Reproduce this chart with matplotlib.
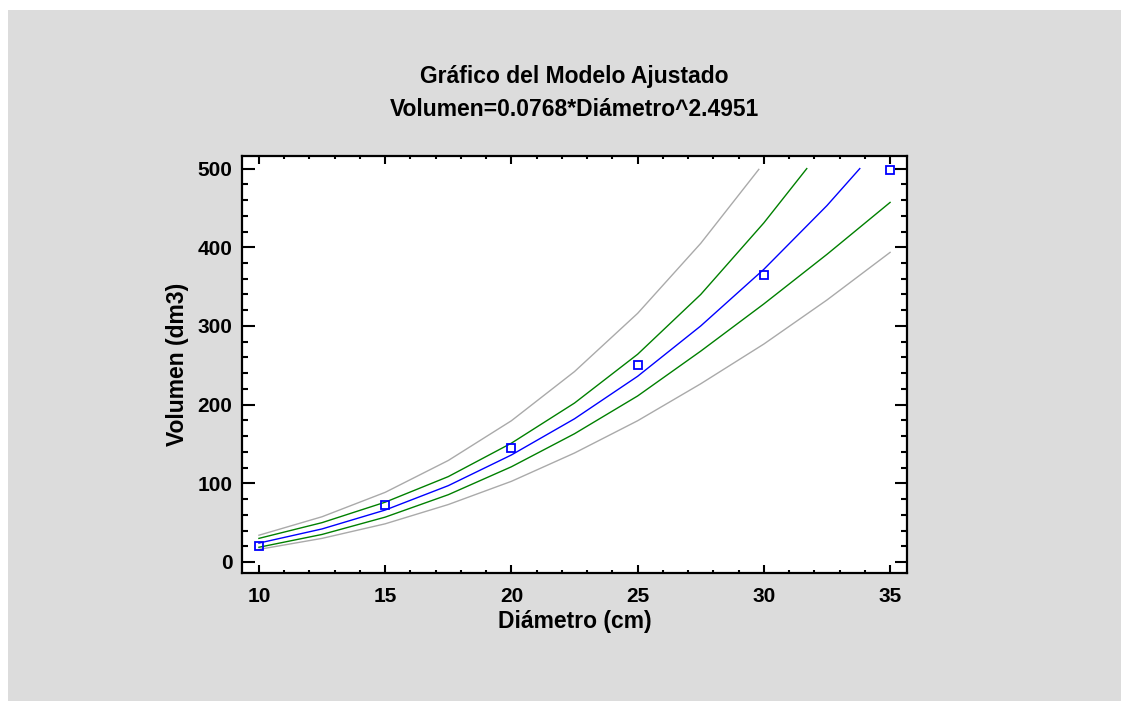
import matplotlib
matplotlib.use("Agg")
from matplotlib import pyplot as plt
from matplotlib.patches import Rectangle
from matplotlib.ticker import MultipleLocator

# observed points
diam_obs = [10, 15, 20, 25, 30, 35]
vol_obs = [20, 72.5, 144.6, 250, 365, 498]

# fitted model
fit_x = [10, 12.5, 15, 17.5, 20, 22.5, 25, 27.5, 30, 32.5, 33.8]
fit_y = [24, 42, 66, 97, 136, 182, 236, 300, 372, 453, 500]

# confidence limits for the mean
conf_up_x = [10, 12.5, 15, 17.5, 20, 22.5, 25, 27.5, 30, 31.7]
conf_up_y = [30, 50, 76, 108.5, 151, 202, 264, 340, 431, 500]
conf_lo_x = [10, 12.5, 15, 17.5, 20, 22.5, 25, 27.5, 30, 32.5, 35]
conf_lo_y = [18.7, 35, 57, 85.5, 121, 163, 211, 268, 328, 391, 457]

# prediction limits
pred_up_x = [10, 12.5, 15, 17.5, 20, 22.5, 25, 27.5, 29.8]
pred_up_y = [34, 57.5, 88.5, 129, 179.5, 242, 316, 405, 499]
pred_lo_x = [10, 12.5, 15, 17.5, 20, 22.5, 25, 27.5, 30, 32.5, 35]
pred_lo_y = [16, 30, 48.5, 73, 102.5, 138.5, 179.5, 226.5, 277, 333, 393.5]

plt.rcParams['font.family'] = ['Liberation Sans', 'DejaVu Sans']
plt.rcParams['font.weight'] = 'bold'

fig = plt.figure(figsize=(11.29, 7.11), dpi=100)
fig.patch.set_facecolor('white')
fig.patches.append(Rectangle((8 / 1129, 1 - 701 / 711), 1113 / 1129, 691 / 711,
                             transform=fig.transFigure, facecolor='#DCDCDC',
                             edgecolor='none', zorder=-10))

ax = fig.add_axes([242 / 1129, 1 - 573 / 711, 665 / 1129, 417 / 711])
ax.set_facecolor('white')

gray = '#AAAAAA'
green = '#008000'
blue = '#0000FF'
ax.plot(pred_up_x, pred_up_y, color=gray, lw=1.0)
ax.plot(pred_lo_x, pred_lo_y, color=gray, lw=1.0)
ax.plot(conf_up_x, conf_up_y, color=green, lw=1.0)
ax.plot(conf_lo_x, conf_lo_y, color=green, lw=1.0)
ax.plot(fit_x, fit_y, color=blue, lw=1.0)
ax.plot(diam_obs, vol_obs, 's', mfc='none', mec=blue, ms=6, mew=1.3,
        clip_on=False)

ax.set_xlim(9.33, 35.67)
ax.set_ylim(-14, 516)
ax.xaxis.set_major_locator(MultipleLocator(5))
ax.xaxis.set_minor_locator(MultipleLocator(1))
ax.yaxis.set_major_locator(MultipleLocator(100))
ax.yaxis.set_minor_locator(MultipleLocator(20))

for s in ax.spines.values():
    s.set_linewidth(1.6)
ax.tick_params(axis='both', which='both', direction='in', top=True, right=True,
               width=1.5, labelsize=15)
ax.tick_params(axis='x', which='major', length=6, pad=10)
ax.tick_params(axis='x', which='minor', length=2.5)
ax.tick_params(axis='y', which='major', length=9, pad=7)
ax.tick_params(axis='y', which='minor', length=4)

ax.set_xlabel('Diámetro (cm)', fontsize=16.5, fontweight='bold', labelpad=3)
ax.set_ylabel('Volumen (dm3)', fontsize=16.5, fontweight='bold', labelpad=6)

fig.text(574.5 / 1129, 1 - 77 / 711, 'Gráfico del Modelo Ajustado',
         ha='center', va='center', fontsize=16.5, fontweight='bold')
fig.text(574.5 / 1129, 1 - 109 / 711, 'Volumen=0.0768*Diámetro^2.4951',
         ha='center', va='center', fontsize=16.5, fontweight='bold')

fig.savefig('out.png', dpi=100)
